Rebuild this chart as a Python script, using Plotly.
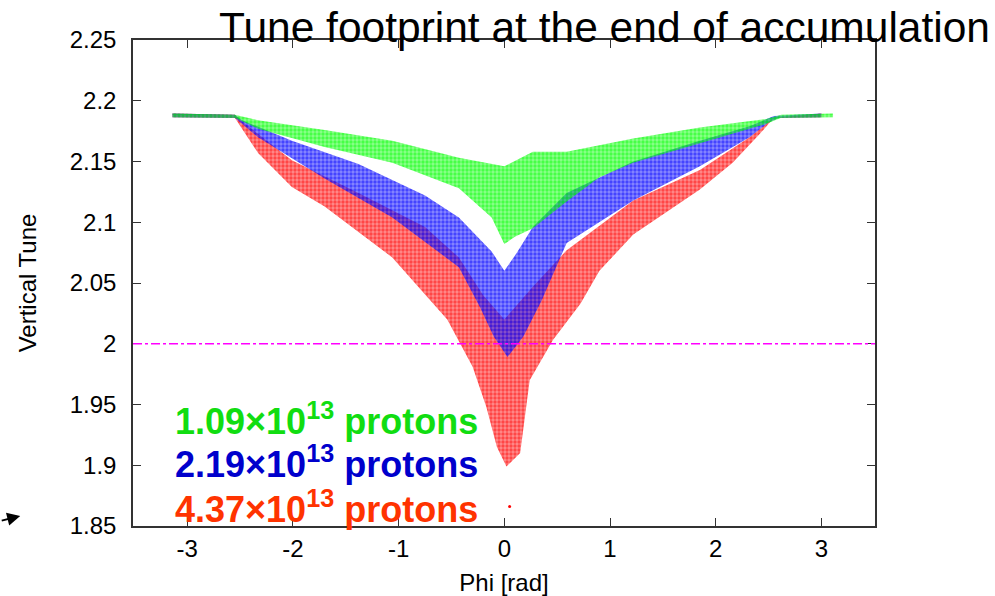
import plotly.graph_objects as go

# ---------------- data ----------------
# Envelopes of the three tune clouds: phi [rad] -> vertical tune
green_upper_phi = [-3.14, -2.55, -2.33, -1.70, -1.06, -0.43, 0.00, 0.27, 0.59, 1.22, 1.85, 2.48, 2.62, 3.11]
green_upper_q   = [2.1895, 2.1885, 2.184, 2.176, 2.167, 2.153, 2.146, 2.158, 2.158, 2.169, 2.178, 2.185, 2.1885, 2.1895]
green_lower_phi = [-3.14, -2.55, -2.33, -1.70, -1.06, -0.43, -0.12, 0.00, 0.10, 0.27, 0.59, 0.90, 1.22, 1.85, 2.48, 2.62, 3.11]
green_lower_q   = [2.1865, 2.186, 2.177, 2.162, 2.149, 2.128, 2.104, 2.082, 2.088, 2.095, 2.117, 2.137, 2.149, 2.165, 2.181, 2.186, 2.1865]

blue_upper_phi = [-3.14, -2.55, -2.48, -2.01, -1.38, -0.75, -0.43, -0.12, 0.00, 0.12, 0.27, 0.59, 1.22, 1.85, 2.32, 2.55, 3.00]
blue_upper_q   = [2.1895, 2.1885, 2.184, 2.167, 2.148, 2.122, 2.104, 2.076, 2.060, 2.075, 2.096, 2.124, 2.150, 2.167, 2.179, 2.1875, 2.1895]
blue_lower_phi = [-3.14, -2.55, -2.33, -1.70, -1.06, -0.43, -0.23, -0.10, 0.03, 0.18, 0.35, 0.59, 1.22, 1.85, 2.32, 2.50, 2.60, 3.00]
blue_lower_q   = [2.1865, 2.186, 2.170, 2.136, 2.104, 2.063, 2.030, 2.006, 1.989, 2.006, 2.035, 2.083, 2.118, 2.146, 2.170, 2.182, 2.186, 2.1865]

red_upper_phi = [-3.14, -2.55, -2.48, -2.01, -1.38, -0.75, -0.43, -0.20, 0.00, 0.27, 0.59, 1.22, 1.85, 2.32, 2.55, 3.00]
red_upper_q   = [2.1895, 2.1885, 2.183, 2.151, 2.124, 2.096, 2.071, 2.040, 2.020, 2.047, 2.077, 2.118, 2.143, 2.170, 2.186, 2.1895]
red_lower_phi = [-3.14, -2.55, -2.33, -2.01, -1.70, -1.06, -0.54, -0.30, -0.17, -0.07, 0.02, 0.15, 0.24, 0.46, 0.72, 0.90, 1.22, 1.85, 2.16, 2.42, 2.55, 3.00]
red_lower_q   = [2.1865, 2.186, 2.157, 2.129, 2.113, 2.071, 2.020, 1.981, 1.948, 1.915, 1.899, 1.910, 1.970, 2.003, 2.033, 2.060, 2.090, 2.127, 2.149, 2.173, 2.186, 2.1865]

red_outlier_phi = [0.05]
red_outlier_q = [1.866]

legend_labels = ["1.09×10<sup>13</sup> protons", "2.19×10<sup>13</sup> protons", "4.37×10<sup>13</sup> protons"]
legend_q = [1.9265, 1.8912, 1.8541]
legend_colors = ["#11dd11", "#0000cc", "#ff3300"]

x_ticks = [-3, -2, -1, 0, 1, 2, 3]
x_tick_text = ["-3", "-2", "-1", "0", "1", "2", "3"]
y_ticks = [1.85, 1.9, 1.95, 2.0, 2.05, 2.1, 2.15, 2.2, 2.25]
y_tick_text = ["1.85", "1.9", "1.95", "2", "2.05", "2.1", "2.15", "2.2", "2.25"]
resonance_q = 2.0

# ---------------- figure ----------------
fig = go.Figure()

def cloud(up_x, up_y, lo_x, lo_y, color, tint, name):
    xs = list(up_x) + list(reversed(lo_x))
    ys = list(up_y) + list(reversed(lo_y))
    fig.add_trace(go.Scatter(
        x=xs, y=ys, mode="lines", fill="toself", name=name,
        line=dict(width=0, color=color),
        fillcolor=tint,
        fillpattern=dict(shape=".", fgcolor=color, fillmode="overlay", size=4, solidity=0.55),
        hoverinfo="skip", showlegend=False,
    ))

cloud(red_upper_phi, red_upper_q, red_lower_phi, red_lower_q, "#ff0000", "rgba(255,0,0,0.45)", "red")
cloud(blue_upper_phi, blue_upper_q, blue_lower_phi, blue_lower_q, "#0000ff", "rgba(40,40,255,0.55)", "blue")
cloud(green_upper_phi, green_upper_q, green_lower_phi, green_lower_q, "#00ff00", "rgba(0,255,0,0.45)", "green")

fig.add_trace(go.Scatter(x=red_outlier_phi, y=red_outlier_q, mode="markers",
                         marker=dict(color="#ff0000", size=3), showlegend=False, hoverinfo="skip"))

fig.add_shape(type="line", xref="x", yref="y", x0=-3.513, x1=3.507, y0=resonance_q, y1=resonance_q,
              line=dict(color="#ff00ff", width=1.5, dash="dashdot"))

for lab, q, c in zip(legend_labels, legend_q, legend_colors):
    fig.add_annotation(x=0.054, xref="paper", y=q, yref="y", xanchor="left", yanchor="bottom",
                       yshift=-11, showarrow=False, text="<b>" + lab + "</b>",
                       font=dict(family="Liberation Sans, Arial", size=36, color=c))

fig.add_annotation(x=0.636, xref="paper", y=1, yref="paper", xanchor="center", yanchor="bottom",
                   yshift=-13, showarrow=False, text="Tune footprint at the end of accumulation",
                   font=dict(family="Liberation Sans, Arial", size=42.5, color="black"))

fig.add_annotation(x=-0.152, xref="paper", y=0.0206, yref="paper", ax=-20, ay=5,
                   showarrow=True, arrowhead=2, arrowsize=1.3, arrowwidth=2, arrowcolor="black", text="")

tick_font = dict(family="Liberation Sans, Arial", size=24, color="black")
title_font = dict(family="Liberation Sans, Arial", size=24, color="black")
fig.update_xaxes(range=[-3.513, 3.507], tickvals=x_ticks, ticktext=x_tick_text, ticks="inside", ticklen=8,
                 tickcolor="#333", showline=True, linecolor="#333", linewidth=1.5, mirror="ticks",
                 showgrid=False, zeroline=False, tickfont=tick_font,
                 title=dict(text="Phi [rad]", font=title_font, standoff=14))
fig.update_yaxes(range=[1.85, 2.25], tickvals=y_ticks, ticktext=y_tick_text, ticks="inside", ticklen=8,
                 tickcolor="#333", showline=True, linecolor="#333", linewidth=1.5, mirror="ticks",
                 showgrid=False, zeroline=False, tickfont=tick_font, ticklabelstandoff=10,
                 title=dict(text="Vertical Tune", font=title_font, standoff=26))

fig.update_layout(width=995, height=596, margin=dict(l=133, r=120, t=40, b=70, autoexpand=False),
                  plot_bgcolor="white", paper_bgcolor="white", showlegend=False)

fig.write_html("out.html")
